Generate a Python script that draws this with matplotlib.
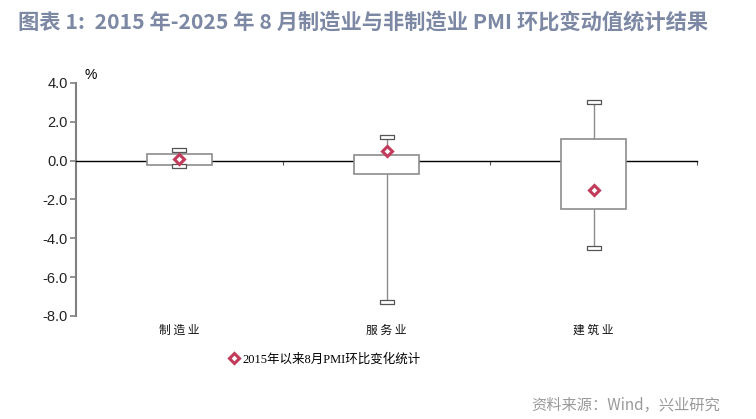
import matplotlib.pyplot as plt
import matplotlib.transforms as mtransforms
from matplotlib.path import Path

plt.rcParams['font.family'] = ['Liberation Sans', 'Noto Sans CJK SC', 'DejaVu Sans']

# data (%)
categories = ['制造业', '服务业', '建筑业']
whisker_low = [-0.3, -7.3, -4.5]
box_low = [-0.25, -0.7, -2.5]
box_high = [0.35, 0.3, 1.1]
whisker_high = [0.55, 1.2, 3.0]
aug_2025 = [0.1, 0.5, -1.5]

yticks = [4.0, 2.0, 0.0, -2.0, -4.0, -6.0, -8.0]

fig = plt.figure(figsize=(7.56, 4.19), dpi=100)
ax = fig.add_axes([0.1005, 0.246, 0.8215, 0.556])

x = list(range(len(categories)))
box_color = '#8c8c8c'
red = '#c23b5a'

# boxes
ax.bar(x, [h - l for h, l in zip(box_high, box_low)], bottom=box_low, width=0.315,
       color='white', edgecolor=box_color, linewidth=1.2, zorder=3)
# whiskers
ax.vlines(x, box_high, whisker_high, color=box_color, linewidth=1.0, zorder=2.8)
ax.vlines(x, whisker_low, box_low, color=box_color, linewidth=1.0, zorder=2.8)
# caps as small hollow rectangles
cap = Path([(-1, -0.3), (1, -0.3), (1, 0.3), (-1, 0.3), (-1, -0.3)],
           [Path.MOVETO, Path.LINETO, Path.LINETO, Path.LINETO, Path.CLOSEPOLY])
ax.plot(x, whisker_high, linestyle='none', marker=cap, markersize=10,
        markerfacecolor='white', markeredgecolor='#555555', markeredgewidth=0.9, zorder=4)
ax.plot(x, whisker_low, linestyle='none', marker=cap, markersize=10,
        markerfacecolor='white', markeredgecolor='#555555', markeredgewidth=0.9, zorder=4)
# August values
ax.plot(x, aug_2025, linestyle='none', marker='D', markersize=5.5,
        markerfacecolor='white', markeredgecolor=red, markeredgewidth=2.2, zorder=5,
        label='2015年以来8月PMI环比变化统计')

ax.set_xlim(-0.5, 2.5)
ax.set_ylim(-8, 4)
ax.set_yticks(yticks)
ax.set_yticklabels(['%.1f' % v for v in yticks], fontsize=10.5, color='#222222')

for s in ['top', 'right']:
    ax.spines[s].set_visible(False)
ax.spines['left'].set_color('#808080')
ax.spines['left'].set_linewidth(1.5)
ax.spines['bottom'].set_position(('data', 0))
ax.spines['bottom'].set_color('black')
ax.spines['bottom'].set_linewidth(1.0)
ax.tick_params(axis='y', direction='out', length=4, width=1.2, color='#808080', pad=2)
ax.set_xticks([0.5, 1.5, 2.5])
ax.set_xticklabels([])
ax.tick_params(axis='x', direction='out', length=3, width=0.8, color='#555555')

trans = mtransforms.blended_transform_factory(ax.transData, ax.transAxes)
for xi, name in zip(x, categories):
    ax.text(xi, -0.06, ' '.join(name), transform=trans, ha='center', va='center',
            fontsize=8.5, family=['Noto Sans CJK SC'], color='#111111')

ax.text(0.023, 1.035, '%', transform=ax.transAxes, fontsize=10, ha='center', va='center')

leg = ax.legend(loc='center', bbox_to_anchor=(0.402, -0.185), frameon=False,
                handlelength=0.6, handletextpad=0.4, borderpad=0,
                prop={'family': ['Liberation Serif', 'Noto Sans CJK SC'], 'size': 9})

fig.text(0.024, 0.947, '图表 1:  2015 年-2025 年 8 月制造业与非制造业 PMI 环比变动值统计结果',
         fontsize=15.3, fontweight='bold', color='#7c88a4', ha='left', va='center',
         family=['Noto Sans CJK SC'])
fig.text(0.952, 0.032, '资料来源：Wind，兴业研究', fontsize=11, color='#9a9a9a',
         ha='right', va='center', family=['Noto Sans CJK SC'])

fig.savefig('out.png', dpi=100)
